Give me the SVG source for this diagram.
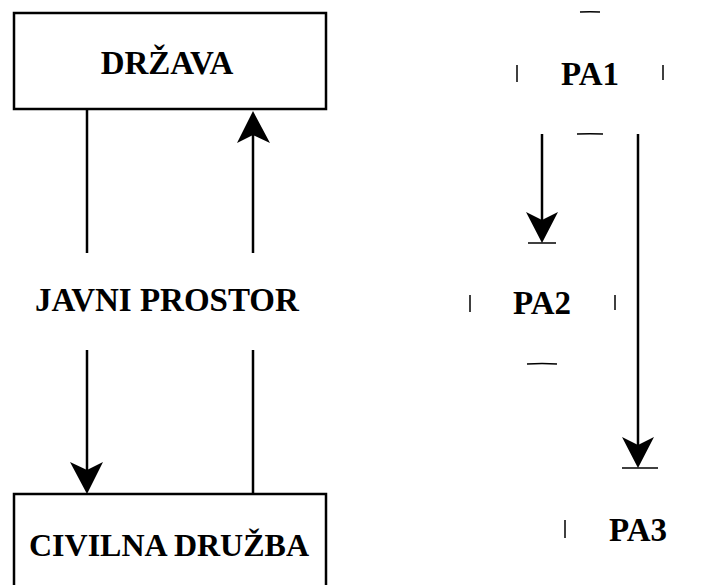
<svg xmlns="http://www.w3.org/2000/svg" width="705" height="585" viewBox="0 0 705 585">
<defs>
<style>
.box{fill:#fff;stroke:#000;stroke-width:2.5}
.lbl{font-family:"Liberation Serif","Times New Roman",serif;font-weight:bold;font-size:33px;fill:#000;text-anchor:middle}
.ln{stroke:#000;stroke-width:2.5;fill:none}
.frag{stroke:#000;stroke-width:1.5;fill:none}
.ah{fill:#000;stroke:none}
</style>
</defs>
<g id="drzava">
<rect class="box" x="14" y="13" width="312" height="96"/>
<text class="lbl" x="167" y="74">DRŽAVA</text>
</g>
<g id="civilna">
<rect class="box" x="14" y="494" width="312" height="100"/>
<text class="lbl" x="169" y="556" style="font-size:32px">CIVILNA DRUŽBA</text>
</g>
<g id="javni">
<text class="lbl" x="167" y="311">JAVNI PROSTOR</text>
</g>
<g id="pa1">
<path class="frag" d="M580 12 Q590 11.5 600 12"/>
<line class="frag" x1="517" y1="65" x2="517" y2="82"/>
<line class="frag" x1="663" y1="65" x2="663" y2="80"/>
<path class="frag" d="M577 134 Q590 133.5 603 134"/>
<text class="lbl" x="590" y="85">PA1</text>
</g>
<g id="pa2">
<line class="frag" x1="470" y1="295" x2="470" y2="312"/>
<line class="frag" x1="615" y1="295" x2="615" y2="310"/>
<path class="frag" d="M527 364 Q542 363 557 364"/>
<line class="frag" x1="528" y1="243" x2="556" y2="243"/>
<text class="lbl" x="542" y="314">PA2</text>
</g>
<g id="pa3">
<line class="frag" x1="565" y1="520" x2="565" y2="538"/>
<line class="frag" x1="622" y1="468" x2="658" y2="468"/>
<text class="lbl" x="638" y="541">PA3</text>
</g>
<g id="connectors">
<line class="ln" x1="87" y1="109" x2="87" y2="253"/>
<line class="ln" x1="253" y1="130" x2="253" y2="253"/>
<path class="ah" d="M253 111 L270 143 L253 135 L237 143 Z"/>
<line class="ln" x1="87" y1="350" x2="87" y2="475"/>
<path class="ah" d="M87 494 L70 462 L87 470 L103 462 Z"/>
<line class="ln" x1="253" y1="350" x2="253" y2="494"/>
<line class="ln" x1="542" y1="134" x2="542" y2="225"/>
<path class="ah" d="M542 243 L526 212 L542 220 L558 212 Z"/>
<line class="ln" x1="638" y1="134" x2="638" y2="450"/>
<path class="ah" d="M638 468 L622 437 L638 445 L654 437 Z"/>
</g>
</svg>
